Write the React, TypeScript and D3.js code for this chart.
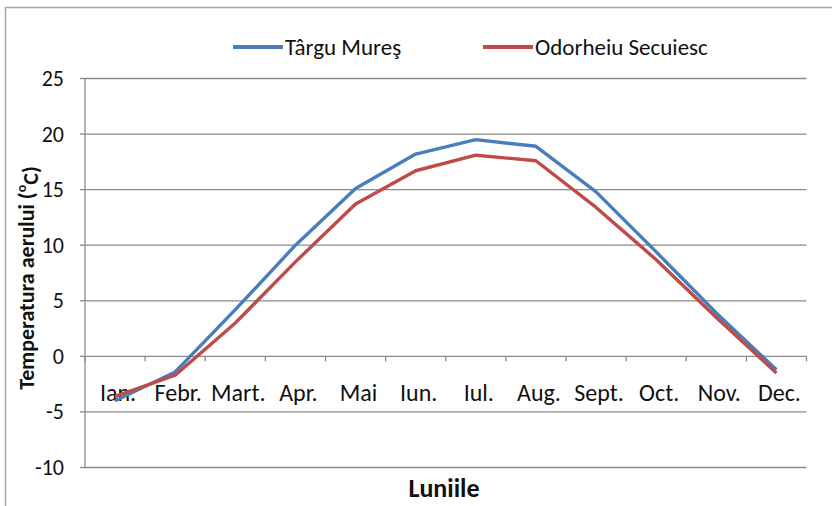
import React from "react";
import * as d3 from "d3";

const months = ["Ian.", "Febr.", "Mart.", "Apr.", "Mai", "Iun.", "Iul.", "Aug.", "Sept.", "Oct.", "Nov.", "Dec."];
const targuMures = [-4.0, -1.4, 4.2, 10.0, 15.1, 18.2, 19.5, 18.9, 14.8, 9.4, 3.9, -1.2];
const odorheiu = [-3.6, -1.7, 3.0, 8.5, 13.7, 16.7, 18.1, 17.6, 13.4, 8.7, 3.5, -1.5];
const yTicks = [-10, -5, 0, 5, 10, 15, 20, 25];
const seriesNames = ["Târgu Mureş", "Odorheiu Secuiesc"];
const colors = ["#4a7ebb", "#be4b48"];

const FONT = "Carlito, 'Liberation Sans Narrow', Lato, sans-serif";

export default function App() {
  const W = 832, H = 506;
  const left = 85, right = 806.5, top = 78.5, bottom = 467.5;
  const x = d3.scaleBand<string>().domain(months).range([left, right]);
  const y = d3.scaleLinear().domain([-10, 25]).range([bottom, top]);
  const line = d3
    .line<number>()
    .x((_, i) => (x(months[i]) as number) + x.bandwidth() / 2)
    .y((d) => y(d));
  const series = [targuMures, odorheiu];
  const boundaries = d3.range(months.length + 1).map((i) => left + i * x.step());

  return (
    <svg width={W} height={H} style={{ position: "absolute", left: 0, top: 0 }} fontFamily={FONT}>
      <rect x={0} y={0} width={W} height={H} fill="#fff" />
      <rect x={5.5} y={7.5} width={W + 10} height={H + 10} fill="none" stroke="#a6a6a6" strokeWidth={1.5} />
      {yTicks.map((t) => (
        <g key={t}>
          <line x1={left} x2={right} y1={y(t)} y2={y(t)} stroke="#8a8a8a" strokeWidth={1.3} />
          <line x1={left - 5} x2={left} y1={y(t)} y2={y(t)} stroke="#8a8a8a" strokeWidth={1.3} />
          <text x={64} y={y(t) + 7.5} textAnchor="end" fontSize={22} fill="#111">
            {t}
          </text>
        </g>
      ))}
      <line x1={left} x2={left} y1={top} y2={bottom} stroke="#8a8a8a" strokeWidth={1.3} />
      {boundaries.map((bx, i) => (
        <line key={i} x1={bx} x2={bx} y1={y(0)} y2={y(0) + 5} stroke="#8a8a8a" strokeWidth={1.3} />
      ))}
      {months.map((m) => (
        <text
          key={m}
          x={(x(m) as number) + x.bandwidth() / 2 + 3}
          y={400.5}
          textAnchor="middle"
          fontSize={24}
          fill="#111"
        >
          {m}
        </text>
      ))}
      {series.map((s, i) => (
        <path key={i} d={line(s) as string} fill="none" stroke={colors[i]} strokeWidth={3.4} strokeLinejoin="round" />
      ))}
      {seriesNames.map((n, i) => {
        const lx = i === 0 ? 233 : 483;
        return (
          <g key={n}>
            <line x1={lx} x2={lx + 50} y1={47} y2={47} stroke={colors[i]} strokeWidth={3.8} />
            <text x={lx + 52} y={55} fontSize={23} fill="#111">
              {n}
            </text>
          </g>
        );
      })}
      <text x={444} y={497} textAnchor="middle" fontSize={26} fontWeight="bold" fill="#111">
        Luniile
      </text>
      <text
        transform={`translate(34,278) rotate(-90)`}
        textAnchor="middle"
        fontSize={22}
        fontWeight="bold"
        fill="#111"
      >
        Temperatura aerului (
        <tspan dy="-0.55em" fontSize={14}>o</tspan>
        <tspan dy="0.55em">C)</tspan>
      </text>
    </svg>
  );
}
